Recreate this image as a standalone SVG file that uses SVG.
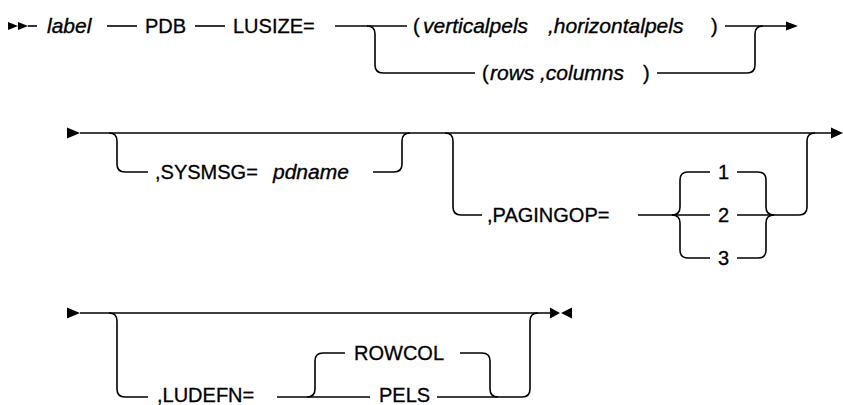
<svg xmlns="http://www.w3.org/2000/svg" width="843" height="405" viewBox="0 0 843 405">
<style>
.l{fill:none;stroke:#000;stroke-width:1.6}
.t{font-family:"Liberation Sans",Arial,sans-serif;font-size:20px;fill:#000;stroke:#000;stroke-width:0.3}
.i{font-family:"Liberation Sans",Arial,sans-serif;font-size:21px;font-style:italic;fill:#000;stroke:#000;stroke-width:0.35}
.m{fill:#000;stroke:none}
</style>
<rect width="843" height="405" fill="#fff"/>
<g id="connectors">
<path class="m" d="M8,22 L18,26 L8,30 Z M18,22 L28,26 L18,30 Z"/>
<path class="l" d="M28,26 H37"/>
<path class="l" d="M107,26 H137"/>
<path class="l" d="M195,26 H225"/>
<path class="l" d="M335,26 H407"/>
<path class="l" d="M367,26 Q375,26 375,34 V65 Q375,73 383,73 H475"/>
<path class="l" d="M725,26 H788"/>
<path class="l" d="M657,73 H747 Q755,73 755,65 V34 Q755,26 763,26"/>
<path class="m" d="M786,21.5 L798,26 L786,30.5 Z"/>
<path class="m" d="M67,127.5 L80,133 L67,138.5 Z"/>
<path class="l" d="M80,133 H833"/>
<path class="m" d="M831,127.5 L843,133 L831,138.5 Z"/>
<path class="l" d="M109,133 Q117,133 117,141 V164 Q117,172 125,172 H148"/>
<path class="l" d="M373,172 H394 Q402,172 402,164 V141 Q402,133 410,133"/>
<path class="l" d="M445,133 Q453,133 453,141 V207 Q453,215 461,215 H482"/>
<path class="l" d="M638,215 H710"/>
<path class="l" d="M672,215 Q680,215 680,207 V180 Q680,172 688,172 H710"/>
<path class="l" d="M672,215 Q680,215 680,223 V250 Q680,258 688,258 H710"/>
<path class="l" d="M737,172 H758 Q766,172 766,180 V207 Q766,215 774,215"/>
<path class="l" d="M737,258 H758 Q766,258 766,250 V223 Q766,215 774,215"/>
<path class="l" d="M737,215 H799 Q807,215 807,207 V141 Q807,133 815,133"/>
<path class="m" d="M67,307.5 L80,313 L67,318.5 Z"/>
<path class="l" d="M80,313 H550"/>
<path class="l" d="M109,313 Q117,313 117,321 V389 Q117,397 125,397 H148"/>
<path class="l" d="M277,397 H370"/>
<path class="l" d="M307,397 Q315,397 315,389 V361 Q315,353 323,353 H345"/>
<path class="l" d="M460,353 H482 Q490,353 490,361 V389 Q490,397 498,397"/>
<path class="l" d="M437,397 H522 Q530,397 530,389 V321 Q530,313 538,313"/>
<path class="m" d="M550,307.5 L560,313 L550,318.5 Z M572,307.5 L561,313 L572,318.5 Z"/>
</g>
<g id="n-label"><text class="i" x="47" y="33">label</text></g>
<g id="n-pdb"><text class="t" x="145" y="33">PDB</text></g>
<g id="n-lusize"><text class="t" x="233" y="33">LUSIZE=</text></g>
<g id="n-pels-pair">
<text class="t" x="413" y="33">(</text>
<text class="i" x="423" y="33">verticalpels</text>
<text class="i" x="548" y="33">,horizontalpels</text>
<text class="t" x="711" y="33">)</text>
</g>
<g id="n-rows-pair">
<text class="t" x="482" y="80">(</text>
<text class="i" x="490" y="80">rows</text>
<text class="i" x="540" y="80">,columns</text>
<text class="t" x="643" y="80">)</text>
</g>
<g id="n-sysmsg">
<text class="t" x="155" y="179">,SYSMSG=</text>
<text class="i" x="273" y="179">pdname</text>
</g>
<g id="n-pagingop"><text class="t" x="487" y="222">,PAGINGOP=</text></g>
<g id="n-1"><text class="t" x="718" y="179">1</text></g>
<g id="n-2"><text class="t" x="718" y="222">2</text></g>
<g id="n-3"><text class="t" x="718" y="265">3</text></g>
<g id="n-ludefn"><text class="t" x="157" y="402">,LUDEFN=</text></g>
<g id="n-rowcol"><text class="t" x="354" y="360">ROWCOL</text></g>
<g id="n-pels"><text class="t" x="379" y="402">PELS</text></g>
</svg>
